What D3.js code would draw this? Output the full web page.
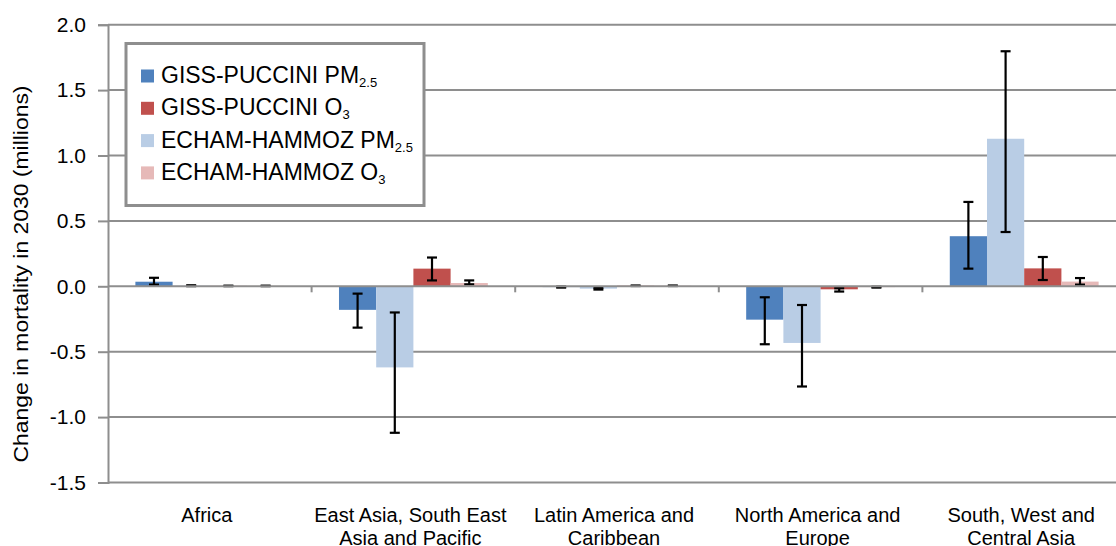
<!DOCTYPE html>
<html>
<head>
<meta charset="utf-8">
<script src="https://cdn.jsdelivr.net/npm/d3@7"></script>
<style>
  html, body { margin: 0; padding: 0; background: #fff; }
  svg { display: block; font-family: "Liberation Sans", Arial, sans-serif; }
</style>
</head>
<body>
<svg id="chart" width="1116" height="546"></svg>
<script>
// Regions along the x axis
const categories = [
  ["Africa"],
  ["East Asia, South East", "Asia and Pacific"],
  ["Latin America and", "Caribbean"],
  ["North America and", "Europe"],
  ["South, West and", "Central Asia"]
];

// Series in bar order within each region
const seriesKeys   = ["gissPM", "echamPM", "gissO3", "echamO3"];
// Legend order
const legendKeys   = ["gissPM", "gissO3", "echamPM", "echamO3"];
const seriesLabels = {
  gissPM:  ["GISS-PUCCINI PM", "2.5"],
  gissO3:  ["GISS-PUCCINI O", "3"],
  echamPM: ["ECHAM-HAMMOZ PM", "2.5"],
  echamO3: ["ECHAM-HAMMOZ O", "3"]
};
const seriesColors = {
  gissPM: "#4F81BD", gissO3: "#C0504D", echamPM: "#B9CDE5", echamO3: "#E6B9B8"
};

// Change in mortality in 2030 (millions), per region
const gissPM    = [0.035, -0.180, -0.006, -0.255, 0.383];
const gissPMLo  = [0.013, -0.316, -0.010, -0.443, 0.135];
const gissPMHi  = [0.065, -0.056, -0.002, -0.084, 0.645];

const echamPM   = [0.004, -0.620, -0.018, -0.433, 1.128];
const echamPMLo = [0.001, -1.120, -0.025, -0.766, 0.415];
const echamPMHi = [0.008, -0.200, -0.012, -0.143, 1.797];

const gissO3    = [0.003, 0.135, 0.004, -0.023, 0.137];
const gissO3Lo  = [0.001, 0.045, 0.002, -0.040, 0.048];
const gissO3Hi  = [0.005, 0.220, 0.006, -0.015, 0.224];

const echamO3   = [0.003, 0.025, 0.004, -0.006, 0.036];
const echamO3Lo = [0.001, 0.015, 0.002, -0.010, 0.013];
const echamO3Hi = [0.005, 0.045, 0.006, -0.003, 0.063];

const yTicks = [2.0, 1.5, 1.0, 0.5, 0.0, -0.5, -1.0, -1.5];

const seriesData = {
  gissPM:  { v: gissPM,  lo: gissPMLo,  hi: gissPMHi },
  echamPM: { v: echamPM, lo: echamPMLo, hi: echamPMHi },
  gissO3:  { v: gissO3,  lo: gissO3Lo,  hi: gissO3Hi },
  echamO3: { v: echamO3, lo: echamO3Lo, hi: echamO3Hi }
};

const svg = d3.select("#chart");
const plotLeft = 108, plotRight = 1126, plotTop = 24.7, plotBottom = 482.5;

const y = d3.scaleLinear().domain([-1.5, 2.0]).range([plotBottom, plotTop]);
const catIdx = d3.range(categories.length);
const x0 = d3.scaleBand().domain(catIdx).range([plotLeft, plotRight]).padding(0);
const gw = x0.bandwidth();
const x1 = d3.scaleBand().domain(seriesKeys).range([gw * 0.1345, gw * 0.8655]).padding(0);

const gridColor = "#8E8E8E";

// Horizontal gridlines (behind bars)
svg.append("g").selectAll("line")
  .data(yTicks.filter(t => t !== 0))
  .join("line")
  .attr("x1", plotLeft).attr("x2", plotRight)
  .attr("y1", d => y(d)).attr("y2", d => y(d))
  .attr("stroke", gridColor).attr("stroke-width", 2);

// Bars
const rows = [];
catIdx.forEach(i => seriesKeys.forEach(k => {
  rows.push({ i, k, v: seriesData[k].v[i], lo: seriesData[k].lo[i], hi: seriesData[k].hi[i] });
}));

svg.append("g").selectAll("rect")
  .data(rows)
  .join("rect")
  .attr("x", d => x0(d.i) + x1(d.k))
  .attr("width", x1.bandwidth())
  .attr("y", d => y(Math.max(0, d.v)))
  .attr("height", d => Math.abs(y(d.v) - y(0)))
  .attr("fill", d => seriesColors[d.k]);

// Error bars
const eb = svg.append("g").attr("stroke", "#000").attr("stroke-width", 2.2);
const capW = 10;
rows.forEach(d => {
  const cx = x0(d.i) + x1(d.k) + x1.bandwidth() / 2;
  eb.append("line").attr("x1", cx).attr("x2", cx).attr("y1", y(d.lo)).attr("y2", y(d.hi));
  eb.append("line").attr("x1", cx - capW / 2).attr("x2", cx + capW / 2).attr("y1", y(d.lo)).attr("y2", y(d.lo));
  eb.append("line").attr("x1", cx - capW / 2).attr("x2", cx + capW / 2).attr("y1", y(d.hi)).attr("y2", y(d.hi));
});

// Zero line with region separators
const xAxis = svg.append("g");
xAxis.append("line")
  .attr("x1", plotLeft).attr("x2", plotRight)
  .attr("y1", y(0)).attr("y2", y(0))
  .attr("stroke", gridColor).attr("stroke-width", 2);
xAxis.selectAll("line.sep")
  .data(catIdx.slice(1).concat([categories.length]))
  .join("line").attr("class", "sep")
  .attr("x1", d => plotLeft + d * gw).attr("x2", d => plotLeft + d * gw)
  .attr("y1", y(0)).attr("y2", y(0) + 6)
  .attr("stroke", gridColor).attr("stroke-width", 2);

// Y axis (plain hyphen for negatives)
const fmt = d3.format(".1f");
const yAxis = d3.axisLeft(y).tickValues(yTicks)
  .tickFormat(d => fmt(d).replace("\u2212", "-"))
  .tickSize(10).tickPadding(12);
const gy = svg.append("g").attr("transform", `translate(${plotLeft},0)`).call(yAxis);
gy.select(".domain").attr("stroke", gridColor).attr("stroke-width", 2);
gy.selectAll(".tick line").attr("stroke", gridColor).attr("stroke-width", 2);
gy.selectAll(".tick text")
  .attr("font-size", 21).attr("fill", "#000")
  .attr("font-family", "Liberation Sans, Arial, sans-serif");

// Region labels
const xl = svg.append("g").attr("font-size", 20).attr("text-anchor", "middle").attr("fill", "#000");
catIdx.forEach(i => {
  const t = xl.append("text").attr("x", x0(i) + gw / 2 - 3).attr("y", 521.5);
  categories[i].forEach((line, j) => {
    t.append("tspan").attr("x", x0(i) + gw / 2 - 3).attr("dy", j === 0 ? 0 : 23.5).text(line);
  });
});

// Y axis title
svg.append("text")
  .attr("transform", "translate(28,274) rotate(-90)")
  .attr("text-anchor", "middle")
  .attr("font-size", 20)
  .attr("textLength", 377).attr("lengthAdjust", "spacingAndGlyphs")
  .attr("fill", "#000")
  .text("Change in mortality in 2030 (millions)");

// Legend
const lg = svg.append("g");
lg.append("rect")
  .attr("x", 126).attr("y", 43.5).attr("width", 298).attr("height", 162)
  .attr("fill", "#fff").attr("stroke", gridColor).attr("stroke-width", 3);
legendKeys.forEach((k, j) => {
  const by = 83 + j * 32.3;
  lg.append("rect").attr("x", 141).attr("y", by - 13.5).attr("width", 13).attr("height", 13)
    .attr("fill", seriesColors[k]);
  const t = lg.append("text").attr("x", 161).attr("y", by).attr("font-size", 23).attr("fill", "#000");
  t.append("tspan").text(seriesLabels[k][0]);
  t.append("tspan").attr("font-size", 13).attr("dy", 4).text(seriesLabels[k][1]);
});
</script>
</body>
</html>
